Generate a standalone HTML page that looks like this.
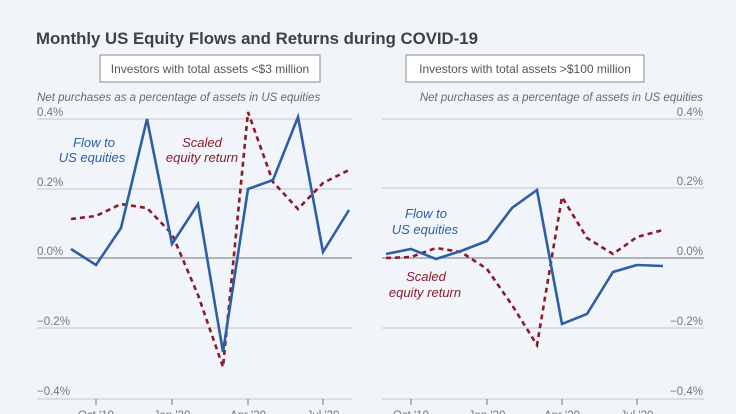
<!DOCTYPE html>
<html><head><meta charset="utf-8"><style>
html,body{margin:0;padding:0;background:#f1f5f9;}
svg{display:block;font-family:"Liberation Sans",sans-serif;}
</style></head><body>
<svg width="736" height="414" viewBox="0 0 736 414" xmlns="http://www.w3.org/2000/svg">
<rect width="736" height="414" fill="#f1f5f9"/>
<text x="36" y="44" font-size="16.8" font-weight="bold" fill="#3d4247">Monthly US Equity Flows and Returns during COVID-19</text>
<rect x="100" y="55" width="220" height="27" fill="#fff" stroke="#8a8a8a" stroke-width="1"/>
<text x="210" y="73" font-size="12" fill="#555" text-anchor="middle">Investors with total assets &lt;$3 million</text>
<rect x="406" y="55" width="238" height="27" fill="#fff" stroke="#8a8a8a" stroke-width="1"/>
<text x="525" y="73" font-size="12" fill="#555" text-anchor="middle">Investors with total assets &gt;$100 million</text>
<g font-size="11.5" font-style="italic" fill="#6a6a6a">
<text x="37" y="101">Net purchases as a percentage of assets in US equities</text>
<text x="703" y="101" text-anchor="end">Net purchases as a percentage of assets in US equities</text>
</g>
<g stroke="#c4c8cc" stroke-width="1">
<line x1="37" y1="119" x2="352" y2="119"/><line x1="37" y1="189" x2="352" y2="189"/><line x1="37" y1="328" x2="352" y2="328"/><line x1="37" y1="399" x2="352" y2="399"/>
<line x1="382" y1="119" x2="704" y2="119"/><line x1="382" y1="188" x2="704" y2="188"/><line x1="382" y1="328" x2="704" y2="328"/><line x1="382" y1="399" x2="704" y2="399"/>
</g>
<g stroke="#8a8f94" stroke-width="1.3">
<line x1="37" y1="258" x2="352" y2="258"/><line x1="382" y1="258" x2="704" y2="258"/>
<line x1="96" y1="399" x2="96" y2="405"/><line x1="172" y1="399" x2="172" y2="405"/><line x1="248" y1="399" x2="248" y2="405"/><line x1="323" y1="399" x2="323" y2="405"/>
<line x1="411" y1="399" x2="411" y2="405"/><line x1="487" y1="399" x2="487" y2="405"/><line x1="562" y1="399" x2="562" y2="405"/><line x1="637" y1="399" x2="637" y2="405"/>
</g>
<g font-size="11.5" fill="#777">
<text x="37" y="116">0.4%</text><text x="37" y="186">0.2%</text><text x="37" y="255">0.0%</text><text x="37" y="325">−0.2%</text><text x="37" y="395">−0.4%</text>
<g text-anchor="end"><text x="703" y="116">0.4%</text><text x="703" y="185">0.2%</text><text x="703" y="255">0.0%</text><text x="703" y="325">−0.2%</text><text x="703" y="395">−0.4%</text></g>
<g text-anchor="middle"><text x="96" y="419">Oct '19</text><text x="172" y="419">Jan '20</text><text x="248" y="419">Apr '20</text><text x="323" y="419">Jul '20</text>
<text x="411" y="419">Oct '19</text><text x="487" y="419">Jan '20</text><text x="562" y="419">Apr '20</text><text x="637" y="419">Jul '20</text></g>
</g>
<g fill="none" stroke-width="2.6" stroke-linejoin="miter">
<polyline stroke="#8b1a2b" stroke-dasharray="5,4" points="71,219 96,216 121,204 147,208 172,234 198,295 223,367 248,112 273,182 298,209 323,183 349,170"/>
<polyline stroke="#2e5fa3" points="71,249 96,265 121,228 147,119 172,244 198,204 223,352 248,189 273,180 298,117 323,252 349,210"/>
<polyline stroke="#8b1a2b" stroke-dasharray="5,4" points="386,258 411,257 436,248 461,252 487,269 512,305 537,345 562,197 587,238 613,254 637,237 663,230"/>
<polyline stroke="#2e5fa3" points="386,254 411,249 436,259 461,251 487,241 512,208 537,190 562,324 587,314 613,272 637,265 663,266"/>
</g>
<g font-size="13" font-style="italic" text-anchor="middle">
<text x="94" y="147" fill="#2e5fa3">Flow to</text><text x="92" y="162" fill="#2e5fa3">US equities</text>
<text x="202" y="147" fill="#8b1a2b">Scaled</text><text x="202" y="162" fill="#8b1a2b">equity return</text>
<text x="426" y="218" fill="#2e5fa3">Flow to</text><text x="425" y="234" fill="#2e5fa3">US equities</text>
<text x="426" y="281" fill="#8b1a2b">Scaled</text><text x="425" y="297" fill="#8b1a2b">equity return</text>
</g>
</svg>
</body></html>
